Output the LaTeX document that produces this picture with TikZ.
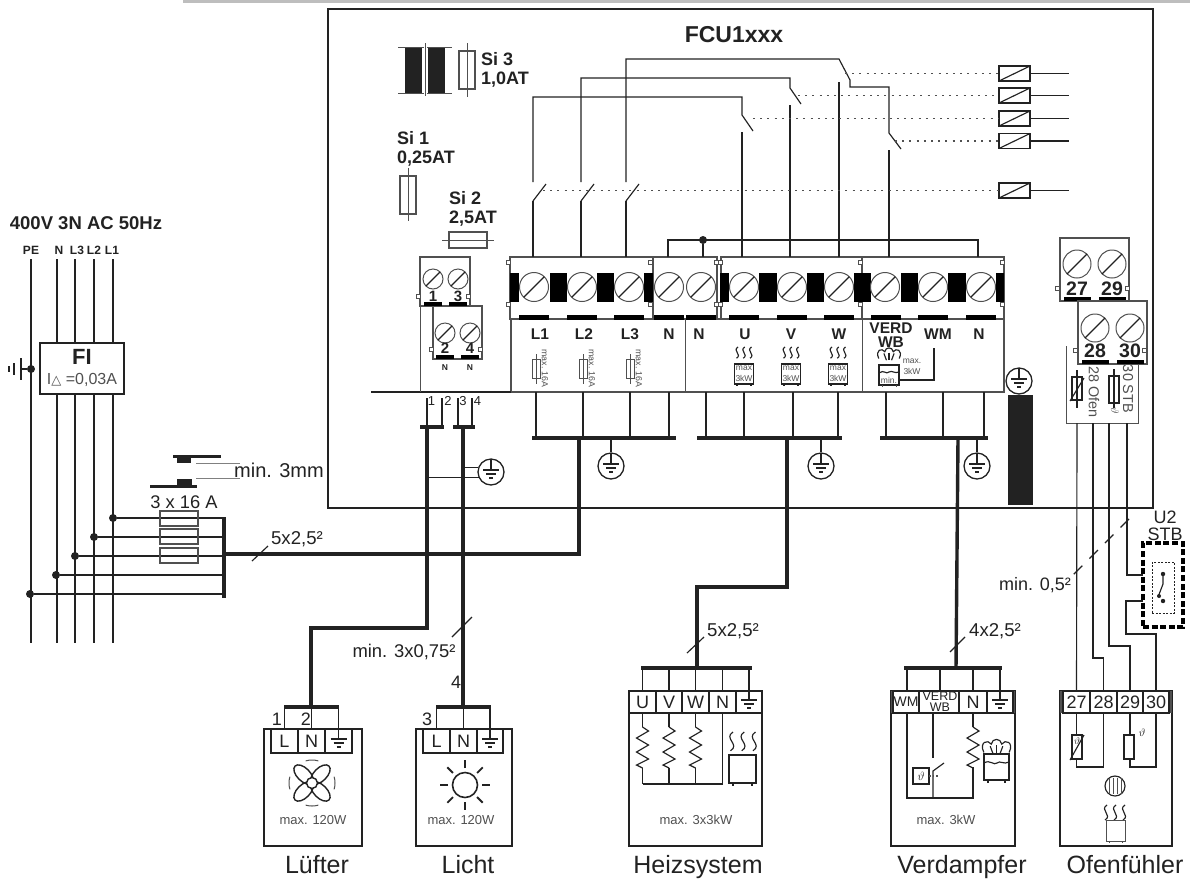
\documentclass[tikz,border=0pt]{standalone}
\usepackage{fontspec}
\setmainfont{Liberation Sans}
\newfontfamily\symfont{DejaVu Sans}
\definecolor{ink}{HTML}{222222}
\definecolor{pale}{HTML}{505050}
\definecolor{band}{HTML}{BEBEBE}
\begin{document}
\begin{tikzpicture}
  [
    x=1pt, y=-1pt,
    lab/.style={inner sep=0pt, text=ink, font=\fontsize{#1}{#1}\selectfont},
    blab/.style={inner sep=0pt, text=ink, font=\bfseries\fontsize{#1}{#1}\selectfont},
    note/.style={inner sep=0pt, text=pale, font=\fontsize{#1}{#1}\selectfont},
    devname/.style={inner sep=0pt, anchor=base, text=ink, font=\fontsize{25}{25}\selectfont},
    wire/.style={draw=ink, line width=1.15pt},
    thin/.style={draw=pale, line width=1pt},
    heavy/.style={draw=ink, line width=3.4pt},
    dots/.style={draw=pale, line width=1.2pt, dash pattern=on 2pt off 5.2pt},
    blk/.style={draw=pale, fill=white, line width=1.1pt, inner sep=0pt, outer sep=0pt},
    coilbox/.style={draw=ink, fill=white, line width=1.2pt, inner sep=0pt, outer sep=0pt,
      minimum width=31pt, minimum height=15pt},
    tcell/.style={draw=ink, fill=white, line width=1.1pt, inner sep=0pt, outer sep=0pt,
      minimum height=#1, text=ink, font=\fontsize{18}{18}\selectfont},
    busbar/.style={fill=ink, inner sep=0pt, outer sep=0pt, minimum height=3.4pt, minimum width=#1},
    dot/.style={circle, fill=ink, inner sep=0pt, minimum size=8pt},
    earthc/.style={circle, draw=ink, line width=1.3pt, fill=white, inner sep=0pt, minimum size=26pt},
    tiny/.style={draw=pale, fill=white, line width=0.7pt},
    gnd/.pic={
      \draw [wire] (0,-#1) -- (0,-2);
      \draw [wire] (-8,-2) -- (8,-2);
      \draw [wire] (-5,2) -- (5,2);
      \draw [wire] (-2,6) -- (2,6);
    },
    screw/.pic={
      \draw [thin, fill=white] (0,0) circle (#1);
      \draw [wire] (135:#1) -- (-45:#1);
    },
    waves/.pic={
      \foreach \q in {-9,0,9}
        \draw [wire] (\q+1,0) .. controls (\q-7,5) and (\q+7,10) .. (\q-1,15);
    },
    zig/.pic={
      \draw [wire] (0,0) -- (6,4) -- (-6,11) -- (6,18) -- (-6,25) -- (6,32) -- (-6,38) -- (0,41);
    },
    steam/.pic={
      \draw [wire] (-12,10) .. controls (-17,0) and (-8,-3) .. (-5,2)
        .. controls (-4,-4) and (4,-4) .. (5,2) .. controls (8,-3) and (17,0) .. (12,10);
      \draw [wire] (-6,4) -- (-3,12);
      \draw [wire] (0,3) -- (0,12);
      \draw [wire] (6,4) -- (3,12);
    },
  ]
  \useasboundingbox (0,0) rectangle (1190,879);
  \fill [white] (0,0) rectangle (1190,879);
  \fill [band] (183,0) rectangle (1190,3);

  % controller housing
  \node (fcu) at (740.5,258.5) [blk, draw=ink, fill=none, minimum width=825pt, minimum height=499pt] {};
  \node (title) at (734,35) [blab=23] {FCU1xxx};

  % transformer and fuses
  \fill [ink] (405,47) rectangle (422,93);
  \fill [ink] (428,47) rectangle (445,93);
  \draw [thin] (398,47) -- (424,47);
  \draw [thin] (398,93) -- (424,93);
  \draw [thin] (427,47) -- (452,47);
  \draw [thin] (427,93) -- (452,93);
  \draw [thin] (425,43) -- (425,96);
  \node (fuse3) at (467,70) [blk, fill=none, minimum width=16pt, minimum height=38pt] {};
  \draw [thin] (fuse3.north) ++(0,-8) -- ++(0,54);
  \node (si3a) at (481,59) [blab=18, anchor=west] {Si 3};
  \node (si3b) at (481,80) [blab=18, anchor=west] {1,0AT};
  \node (si1a) at (397,138) [blab=18, anchor=west] {Si 1};
  \node (si1b) at (397,159) [blab=18, anchor=west] {0,25AT};
  \node (fuse1) at (408,195) [blk, fill=none, minimum width=16pt, minimum height=38pt] {};
  \draw [thin] (fuse1.north) ++(0,-8) -- ++(0,53);
  \node (si2a) at (449,198) [blab=18, anchor=west] {Si 2};
  \node (si2b) at (449,219) [blab=18, anchor=west] {2,5AT};
  \node (fuse2) at (468,240) [blk, fill=none, minimum width=38pt, minimum height=16pt] {};
  \draw [thin] (fuse2.west) ++(-7,0) -- ++(52,0);

  % terminal blocks of the controller
  \node (lowbox) at (757.5,355.5) [blk, fill=none, minimum width=493pt, minimum height=73pt] {};
  \node (blkL) at (581.5,288) [blk, minimum width=143pt, minimum height=62pt] {};
  \node (blkU) at (791.5,288) [blk, minimum width=141pt, minimum height=62pt] {};
  \node (blkV) at (933,288) [blk, minimum width=142pt, minimum height=62pt] {};
  \node (blkN) at (685,288) [blk, minimum width=64pt, minimum height=62pt] {};
  \draw [thin] (685,319) -- (685,392);
  \draw [thin] (862,257) -- (862,392);
  \foreach \a/\b in {510/519,550/567,597/614,644/653,720/729,759/777,807/824,854/871,901/918,948/966,996/1004}
    \fill [black] (\a,273) rectangle (\b,302);
  \foreach \x in {534,582,629,669,701,744,792,839,885,933,981}
    \pic at (\x,287) {screw=14.5};
  \foreach \x in {519,567,614,654,686,729,777,824,871,918,966}
    \fill [black] (\x,315) rectangle (\x+30,320);
  \foreach \p in {(508,262),(508,304),(650,262),(650,304),(716,262),(720,262),(716,304),(720,304),(860,262),(860,304),(1002,262),(1002,304)}
    \draw [tiny] \p ++(-2,-2) rectangle ++(4,4);

  \foreach \n/\x/\t in {a/540/L1,b/584/L2,c/630/L3,d/669/N,e/699/N,f/745/U,g/791/V,h/839/W,i/938/WM,j/979/N}
    \node (pt\n) at (\x,334) [blab=15.5] {\t};
  \node (ptv) at (891,328) [blab=15.5] {VERD};
  \node (ptw) at (891,342) [blab=15.5] {WB};

  \foreach \x in {536,583,630} {
    \draw [thin] (\x,354) -- (\x,384);
    \draw [thin] (\x-4,359) rectangle (\x+4,378);
    \node at (\x+9,368.5) [note=8.8, rotate=-90] {max. 16A};
  }
  \foreach \x in {744,791,838} {
    \pic at (\x,347) [scale=0.75] {waves};
    \draw [wire] (\x-9.5,364) rectangle (\x+9.5,384);
    \draw [wire] (\x-7,384) -- (\x-7,386);
    \draw [wire] (\x+7,384) -- (\x+7,386);
    \node at (\x,368.5) [note=8.5] {max};
    \node at (\x,378.5) [note=8.5] {3kW};
  }
  \pic at (889,350) [scale=0.85] {steam};
  \draw [wire] (879,365) rectangle (899,385);
  \draw [wire] (879,373) .. controls (884,369) and (886,375) .. (889,372) .. controls (892,370) and (895,374) .. (899,372);
  \draw [thin] (882,385) -- (882,387);
  \draw [thin] (896,385) -- (896,387);
  \node (minlab) at (889,380) [note=8.5] {min.};
  \node (maxlab) at (912,361) [note=8.5] {max.};
  \node (kwlab) at (912,371) [note=8.5] {3kW};
  \draw [wire] (899,380) -- (934,380) -- (934,348);

  % contactor wiring
  \coordinate (l1t) at (533,182);
  \coordinate (l2t) at (581,182);
  \coordinate (l3t) at (626,182);
  \coordinate (u1c) at (742,97);
  \coordinate (u2c) at (790,78);
  \coordinate (u3c) at (839,59);
  \coordinate (u1t) at (742,115);
  \coordinate (u2t) at (790,88);
  \coordinate (u3t) at (850,80);
  \coordinate (w1c) at (889,87);
  \coordinate (w1t) at (889,133);
  \draw [wire] (l1t) |- (u1c) -- (u1t) -- ++(11,16);
  \draw [wire] (l2t) |- (u2c) -- (u2t) -- ++(11,16);
  \draw [wire] (l3t) |- (u3c) -- (u3t) |- (w1c) -- (w1t) -- ++(12,16);
  \foreach \n/\x in {a/533,b/581,c/626} {
    \coordinate (k\n) at (\x,201);
    \draw [wire] (k\n) -- ++(13,-17);
    \draw [wire] (k\n) -- (k\n |- blkL.north);
  }
  \foreach \n/\x/\y in {d/742/132,e/790/105,f/839/82,g/889/150} {
    \coordinate (k\n) at (\x,\y);
    \draw [wire] (k\n) -- (k\n |- blkU.north);
  }
  \coordinate (nl) at (668,240);
  \coordinate (nr) at (978,240);
  \node (nj) at (703,240) [dot] {};
  \draw [wire] (nl |- blkN.north) -- (nl) -- (nr) -- (nr |- blkV.north);
  \draw [wire] (nj) -- (nj |- blkN.north);

  \foreach \n/\y/\x in {a/73.5/845,b/95.5/798,c/118.5/753,d/141/895,e/190.5/543} {
    \node (coil\n) at (1014.5,\y) [coilbox] {};
    \draw [wire] (coil\n.south west) -- (coil\n.north east);
    \coordinate (ce\n) at (1069,\y);
    \draw [wire] (coil\n.east) -- (ce\n);
    \draw [dots] (\x,\y) -- (coil\n.west);
  }

  % small terminals 1 to 4
  \node (tb13) at (445,281.5) [blk, minimum width=50pt, minimum height=49pt] {};
  \node (tb24) at (457.5,332.5) [blk, minimum width=49pt, minimum height=53pt] {};
  \foreach \x/\t in {433/1,458/3} {
    \pic at (\x,279) {screw=10};
    \fill [black] (\x-9,302) rectangle (\x+9,306);
    \node at (\x,296) [blab=15] {\t};
  }
  \foreach \x/\t in {445/2,470/4} {
    \pic at (\x,333) {screw=10};
    \fill [black] (\x-9,355) rectangle (\x+9,359);
    \node at (\x,348) [blab=15] {\t};
    \node at (\x,368) [blab=8.5] {N};
  }
  \foreach \p in {(418,296),(468,296),(431,349),(480,349)}
    \draw [tiny] \p ++(-2,-2) rectangle ++(4,4);
  \coordinate (ml) at (371,392);
  \draw [wire] (ml) -- (lowbox.south west);
  \draw [thin] (tb13.south west) -- (tb13.south west |- ml);

  % supply cables of the controller
  \node (busA) at (432,427) [busbar=24pt] {};
  \node (busB) at (464,427) [busbar=22pt] {};
  \node (busL) at (604,438) [busbar=144pt] {};
  \node (busU) at (769.5,438) [busbar=145pt] {};
  \node (busV) at (934,438) [busbar=108pt] {};
  \foreach \x/\b in {427/busA,442/busA,458/busB,472/busB} {
    \coordinate (p\x) at (\x,398);
    \draw [wire] (p\x) -- (p\x |- \b);
  }
  \node (n1) at (431.5,401) [lab=13] {1};
  \node (n2) at (448,401) [lab=13] {2};
  \node (n3) at (463,401) [lab=13] {3};
  \node (n4) at (477.5,401) [lab=13] {4};
  \foreach \x/\b in {536/busL,583/busL,630/busL,669/busL,706/busU,744/busU,793/busU,838/busU,886/busV,943/busV,984/busV} {
    \coordinate (q\x) at (\x,392);
    \draw [wire] (q\x) -- (q\x |- \b);
  }

  % earth points
  \node (ge1) at (491,472) [earthc] {};
  \node (ge2) at (611,466) [earthc] {};
  \node (ge3) at (821,466) [earthc] {};
  \node (ge4) at (977,466) [earthc] {};
  \node (ge5) at (1019,381) [earthc] {};
  \foreach \n in {ge1,ge2,ge3,ge4,ge5}
    \pic at (\n) {gnd=13};
  \draw [wire] (ge2.north) -- (ge2.north |- busL);
  \draw [wire] (ge3.north) -- (ge3.north |- busU);
  \draw [wire] (ge4.north) -- (ge4.north |- busV);
  \fill [ink] (1008,395) rectangle (1033,505);

  % mains side
  \node (mains) at (86,223) [blab=18.5] {400V 3N AC 50Hz};
  \foreach \n/\x/\lx/\t in {pe/31/31/PE,nn/57/59/N,la/75/77/L3,lb/94/94/L2,lc/113/112/L1} {
    \node (t\n) at (\lx,250) [blab=12] {\t};
    \coordinate (top\n) at (\x,259);
    \coordinate (bot\n) at (\x,643);
    \draw [wire] (top\n) -- (bot\n);
  }
  \node (fi) at (82,368.5) [blk, draw=ink, minimum width=84pt, minimum height=51pt] {};
  \node (filab) at (82,357) [blab=22] {FI};
  \node (firate) at (82,380) [note=16] {I{\symfont\fontsize{13}{13}\selectfont △} =0,03A};
  \node (dotg) at (31,369) [dot] {};
  \coordinate (eg) at (21,369);
  \draw [wire] (dotg) -- (eg);
  \draw [wire] (21,358) -- (21,380);
  \draw [wire] (14,363) -- (14,375);
  \draw [wire] (9,366) -- (9,372);

  \node (feedbar) at (224,557.5) [busbar=3.4pt, minimum height=81pt] {};
  \foreach \n/\x/\y in {c/113/518,b/94/537,a/75/556,d/56/575,e/30/594} {
    \node (tap\n) at (\x,\y) [dot] {};
    \draw [wire] (tap\n) -- (tap\n -| feedbar);
  }
  \foreach \n/\y in {a/518.5,b/536.5,c/555.5}
    \node (mf\n) at (179,\y) [blk, fill=none, minimum width=38pt, minimum height=15pt] {};
  \node (fcap) at (184,502) [lab=18.3] {3 x 16 A};

  % contact gap
  \fill [ink] (173,455) rectangle (221,458);
  \fill [ink] (177,456) rectangle (191,463);
  \fill [ink] (150,485) rectangle (197,488);
  \fill [ink] (177,479) rectangle (192,486);
  \draw [draw=gray, line width=0.7pt] (196,463) -- (240,463);
  \draw [draw=gray, line width=0.7pt] (196,478) -- (240,478);
  \node (gap) at (279,470) [lab=20] {min. 3mm};

  % main cables
  \coordinate (tkA) at (427,427);
  \coordinate (tkB) at (463,427);
  \coordinate (tkL) at (579,438);
  \coordinate (tkU) at (787,438);
  \coordinate (tkV) at (958,438);
  \coordinate (fd) at (224,554);
  \coordinate (lfc) at (311,628);
  \coordinate (hzc) at (697,587);
  \coordinate (tkW) at (956,668);
  \node (lfbus) at (311.5,707) [busbar=55pt] {};
  \node (libus) at (463.5,707) [busbar=55pt] {};
  \node (hzbus) at (696.5,668) [busbar=111pt] {};
  \node (vdbus) at (953,668) [busbar=98pt] {};
  \draw [heavy] (tkL) |- (fd);
  \draw [heavy] (tkA) |- (lfc) -- (lfc |- lfbus);
  \draw [heavy] (tkB) -- (tkB |- libus);
  \draw [heavy] (tkU) |- (hzc) -- (hzc |- hzbus);
  \draw [heavy] (tkV) -- (tkW);
  \draw [wire] (ge1.160) -- (ge1.160 -| tkB);
  \draw [wire] (ge1.205) -- (ge1.205 -| tkA);

  % cable marks
  \draw [wire] (252,561) -- (268,546);
  \draw [wire] (452,637) -- (472,617);
  \draw [wire] (687,653) -- (704,637);
  \draw [wire] (950,652) -- (965,637);
  \node (c1) at (297,539) [lab=18.6] {5x2,5²};
  \node (c2) at (404,652) [lab=18.4] {min. 3x0,75²};
  \node (c3) at (733,631) [lab=18.6] {5x2,5²};
  \node (c4) at (995,631) [lab=18.6] {4x2,5²};
  \node (c5) at (1035,585) [lab=18] {min. 0,5²};

  % fan
  \node (lfbox) at (313,787.5) [blk, draw=ink, minimum width=98pt, minimum height=117pt] {};
  \foreach \n/\x/\t/\w in {lfL/284.5/L/27pt,lfN/311.5/N/27pt,lfE/338.5/{}/27pt}
    \node (\n) at (\x,741) [tcell=24pt, minimum width=\w] {\t};
  \pic at (lfE) {gnd=12};
  \foreach \n in {lfL,lfN,lfE}
    \draw [wire] (\n.north) -- (\n.north |- lfbus);
  \node (lfw1) at (277,719) [lab=18] {1};
  \node (lfw2) at (306,719) [lab=18] {2};
  \begin{scope}[shift={(312,783)}]
    \foreach \a in {45,135} {
      \draw [draw=ink, line width=1.4pt, rotate=\a] (12,0) ellipse (12 and 6.5);
      \draw [draw=ink, line width=1.4pt, rotate=\a] (-12,0) ellipse (12 and 6.5);
    }
    \draw [draw=ink, line width=1.4pt, fill=white] (0,0) circle (5.5);
    \foreach \a in {0,90,180,270}
      \draw [thin] (\a-16:23) arc [start angle=\a-16, end angle=\a+16, radius=23];
  \end{scope}
  \node (lfmax) at (313,820) [note=13] {max. 120W};
  \node (lfname) at (317,873.5) [devname] {Lüfter};

  % light
  \node (libox) at (464,787.5) [blk, draw=ink, minimum width=96pt, minimum height=117pt] {};
  \foreach \n/\x/\t/\w in {liL/436.5/L/27pt,liN/463.5/N/27pt,liE/490/{}/26pt}
    \node (\n) at (\x,741) [tcell=24pt, minimum width=\w] {\t};
  \pic at (liE) {gnd=12};
  \foreach \n in {liL,liN,liE}
    \draw [wire] (\n.north) -- (\n.north |- libus);
  \node (liw3) at (427,719) [lab=18] {3};
  \node (liw4) at (456,682) [lab=18] {4};
  \begin{scope}[shift={(465,785)}]
    \draw [draw=ink, line width=1.6pt] (0,0) circle (12.5);
    \foreach \a in {0,45,...,315}
      \draw [draw=ink, line width=1.8pt] (\a:17) -- (\a:25);
  \end{scope}
  \node (limax) at (461,820) [note=13] {max. 120W};
  \node (liname) at (468,873.5) [devname] {Licht};

  % heating
  \node (hzbox) at (695.5,768.5) [blk, draw=ink, minimum width=133pt, minimum height=155pt] {};
  \foreach \n/\x/\t/\w in {hzU/642.5/U/27pt,hzV/669/V/26pt,hzW/695.5/W/27pt,hzN/722.5/N/27pt,hzE/749/{}/26pt}
    \node (\n) at (\x,702) [tcell=22pt, minimum width=\w] {\t};
  \pic at (hzE) {gnd=10};
  \foreach \n in {hzU,hzV,hzW,hzN,hzE}
    \draw [wire] (\n.north) -- (\n.north |- hzbus);
  \foreach \n in {hzU,hzV,hzW} {
    \path (\n.south) coordinate (r\n) ++(0,14) coordinate (z\n);
    \draw [wire] (r\n) -- (z\n);
    \pic at (z\n) {zig};
    \draw [wire] (r\n) ++(0,55) -- ++(0,16);
  }
  \draw [wire] (rhzU) ++(0,71) -- ++(80,0) |- (hzN.south);
  \pic at (743,732) [scale=1.25] {waves};
  \draw [wire] (729,755) rectangle (756,783);
  \draw [wire] (733,783) -- (733,786);
  \draw [wire] (752,783) -- (752,786);
  \node (hzmax) at (696,820) [note=13] {max. 3x3kW};
  \node (hzname) at (698,873.5) [devname] {Heizsystem};

  % evaporator
  \node (vdbox) at (953,768.5) [blk, draw=ink, minimum width=124pt, minimum height=155pt] {};
  \fill [pale] (891,691) rectangle (893,713);
  \fill [pale] (1013,691) rectangle (1015,713);
  \node (vdW) at (906,702) [tcell=22pt, minimum width=26pt, font=\fontsize{14}{14}\selectfont] {WM};
  \node (vdB) at (939,702) [tcell=22pt, minimum width=40pt] {};
  \node (vdb1) at (940,696.5) [lab=12.5] {VERD};
  \node (vdb2) at (940,707) [lab=12.5] {WB};
  \node (vdN) at (973,702) [tcell=22pt, minimum width=28pt] {N};
  \node (vdE) at (1000,702) [tcell=22pt, minimum width=26pt] {};
  \pic at (vdE) {gnd=10};
  \foreach \n/\x in {vdW/907,vdB/940,vdN/973,vdE/1000} {
    \coordinate (v\n) at (\x,691);
    \draw [wire] (v\n) -- (v\n |- vdbus);
  }
  \coordinate (vdc) at (907,798);
  \coordinate (vdd) at (973,798);
  \draw [wire] (vdW.south -| vdc) -- (vdc) -- (vdd) -- (973,767);
  \pic at (973,727) {zig};
  \draw [wire] (973,713) -- (973,727);
  \draw [wire] (933,713) -- (933,758);
  \draw [wire] (933,798) -- (933,771) -- (944,763);
  \node (vdth) at (921,776) [blk, draw=ink, fill=none, minimum width=16pt, minimum height=16pt] {};
  \node (vdtt) at (vdth) [lab=12] {$\vartheta$};
  \draw [dots, dash pattern=on 1.5pt off 2pt] (vdth.east) -- (938,776);
  \pic at (996.5,742) [scale=1.05] {steam};
  \draw [wire] (984,754) rectangle (1009,780);
  \draw [wire] (984,763) .. controls (990,759) and (994,766) .. (997,763) .. controls (1000,760) and (1004,765) .. (1009,762);
  \draw [wire] (988,780) -- (988,783);
  \draw [wire] (1005,780) -- (1005,783);
  \node (vdmax) at (946,820) [note=13] {max. 3kW};
  \node (vdname) at (962,873.5) [devname] {Verdampfer};

  % oven sensor
  \node (ofbox) at (1116,768.5) [blk, draw=ink, minimum width=112pt, minimum height=155pt] {};
  \fill [pale] (1060,691) rectangle (1063,713);
  \fill [pale] (1169,691) rectangle (1172,713);
  \foreach \n/\x/\t/\w in {of27/1076.5/27/27pt,of28/1103.5/28/27pt,of29/1130/29/26pt,of30/1156/30/26pt}
    \node (\n) at (\x,702) [tcell=22pt, minimum width=\w] {\t};
  \draw [wire] (of27.south) |- (1103.5,767) -- (of28.south);
  \draw [wire] (of29.south) |- (1156,767) -- (of30.south);
  \node (ofr) at (1077,747) [blk, draw=ink, fill=white, minimum width=10pt, minimum height=24pt] {};
  \node (ofrt) at (1077,741) [lab=10] {$\vartheta$};
  \draw [wire] (1070,760) -- (1084,735);
  \node (off) at (1129,747) [blk, draw=ink, fill=white, minimum width=10pt, minimum height=24pt] {};
  \node (ofth) at (1142,733) [lab=11] {$\vartheta$};
  \draw [wire] (1115,786) circle (10);
  \foreach \x in {-6,-2,2,6}
    \draw [thin] (1115+\x,778) -- (1115+\x,794);
  \pic at (1115,805) {waves};
  \draw [thin] (1106,820) rectangle (1125,841);
  \draw [thin] (1109,841) -- (1109,843);
  \draw [thin] (1122,841) -- (1122,843);
  \node (ofname) at (1125,873.5) [devname] {Ofenfühler};

  % sensor terminals
  \node (tb27) at (1094.5,269.5) [blk, minimum width=69pt, minimum height=63pt] {};
  \foreach \x/\t in {1077/27,1112/29} {
    \pic at (\x,264) {screw=14};
    \fill [black] (\x-13.5,297) rectangle (\x+13.5,301);
    \node at (\x,289) [blab=19.5] {\t};
  }
  \node (tb28) at (1112.5,332.5) [blk, minimum width=69pt, minimum height=63pt] {};
  \foreach \x/\t in {1095/28,1130/30} {
    \pic at (\x,328) {screw=14};
    \fill [black] (\x-13.5,360) rectangle (\x+13.5,364);
    \node at (\x,351) [blab=19.5] {\t};
  }
  \foreach \p in {(1057,288),(1127,288),(1075,350),(1144,350)}
    \draw [tiny] \p ++(-2,-2) rectangle ++(4,4);
  \coordinate (sa) at (1066,346);
  \coordinate (sb) at (1066,423);
  \coordinate (sc) at (1138,423);
  \draw [thin] (sa) -- (sb) -- (sc) -- (sc |- tb28.south);
  \draw [wire] (1072,377) rectangle (1082,400);
  \draw [wire] (1077,370) -- (1077,408);
  \draw [wire] (1070,401) -- (1084,378);
  \node (tof) at (1094,392) [note=14.4, rotate=-90] {28 Ofen};
  \draw [wire] (1109,376) rectangle (1119,403);
  \draw [wire] (1114,369) -- (1114,408);
  \node (tth) at (1115,411) [note=11, rotate=-90] {$\vartheta$};
  \node (tst) at (1128,389) [note=14.4, rotate=-90] {30 STB};

  % sensor wires and limiter
  \coordinate (ofa) at (1077,423);
  \coordinate (ofb) at (1093,423);
  \coordinate (ofc) at (1109,423);
  \coordinate (ofd) at (1127,423);
  \coordinate (stbA) at (1143,575);
  \coordinate (stbB) at (1143,601);
  \draw [wire] (ofa) -- (of27.north);
  \draw [wire] (ofb) -- (1093,658) -| (of28.north);
  \draw [wire] (ofc) -- (1109,646) -| (of29.north);
  \draw [wire] (ofd) |- (stbA);
  \draw [wire] (stbB) -| (1126,634) -| (of30.north);
  \node (stb) at (1163,585) [draw=black, line width=3.2pt, dash pattern=on 6pt off 2.6pt,
    inner sep=0pt, minimum width=40pt, minimum height=84pt] {};
  \node (stbin) at (1163,587.5) [draw=ink, line width=1pt, dash pattern=on 2pt off 1.5pt,
    inner sep=0pt, minimum width=22pt, minimum height=51pt] {};
  \draw [wire] (1163,574) -- (1163,584) -- (1158,597);
  \fill [ink] (1163,574) circle (2.2);
  \fill [ink] (1163,601) circle (2.2);
  \fill [ink] (1159,596) circle (2);
  \node (u2a) at (1165,517) [lab=18] {U2};
  \node (u2b) at (1165,534) [lab=18] {STB};
  \draw [wire, dash pattern=on 12pt off 10pt] (1129,519) -- (1073,575);
\end{tikzpicture}
\end{document}
